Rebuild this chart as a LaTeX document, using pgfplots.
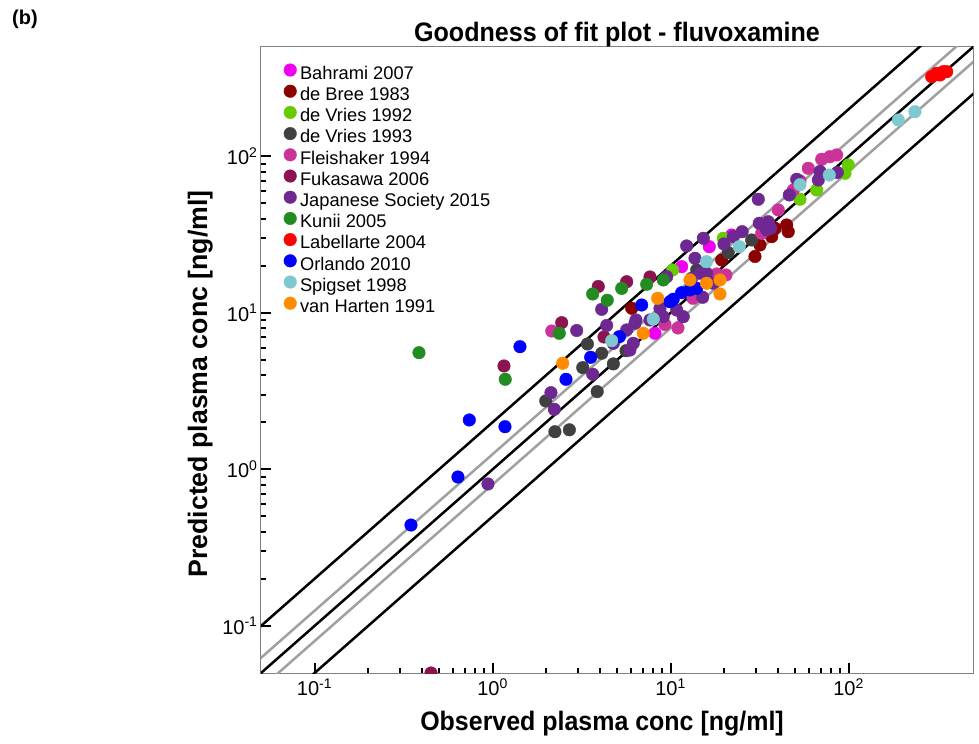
\documentclass[border=0pt]{standalone}
\usepackage{fontspec}
\setmainfont{Liberation Sans}
\usepackage{graphicx}
\usepackage{pgfplots}
\pgfplotsset{compat=1.18}

% study colours
\definecolor{cBahrami}{RGB}{240,0,240}
\definecolor{cdeBree}{RGB}{139,0,0}
\definecolor{cdeVriesA}{RGB}{102,204,0}
\definecolor{cdeVriesB}{RGB}{64,64,64}
\definecolor{cFleishaker}{RGB}{204,51,153}
\definecolor{cFukasawa}{RGB}{139,20,80}
\definecolor{cJapanese}{RGB}{110,40,145}
\definecolor{cKunii}{RGB}{34,139,34}
\definecolor{cLabellarte}{RGB}{255,0,0}
\definecolor{cOrlando}{RGB}{0,0,255}
\definecolor{cSpigset}{RGB}{126,200,207}
\definecolor{cvanHarten}{RGB}{255,140,0}
\definecolor{refgray}{RGB}{160,160,160}

\pgfplotsset{
  study/.style={only marks, mark=*, mark size=6.3bp, color=#1,
    mark options={draw=none, fill=#1}},
}

\begin{document}
\begin{tikzpicture}
\useasboundingbox (0,0) rectangle (979bp,744bp);
\node[font=\bfseries\fontsize{20bp}{22bp}\selectfont] at (25bp,725bp) {(b)};
\begin{axis}[
  at={(261bp,71bp)}, anchor=south west,
  scale only axis, width=712bp, height=626bp,
  xmode=log, ymode=log,
  xmin=0.05, xmax=500, ymin=0.05, ymax=500,
  xtick={0.1,1,10,100}, ytick={0.1,1,10,100},
  xticklabels={10\textsuperscript{-1},10\textsuperscript{0},10\textsuperscript{1},10\textsuperscript{2}},
  yticklabels={10\textsuperscript{-1},10\textsuperscript{0},10\textsuperscript{1},10\textsuperscript{2}},
  tick pos=left, tick align=inside,
  major tick length=10bp, minor tick length=5bp,
  every tick/.style={black, line width=2bp},
  axis line style={draw=gray, line width=1bp},
  tick label style={font=\fontsize{20bp}{22bp}\selectfont},
  xticklabel style={yshift=-2bp},
  title={\scalebox{0.94}[1]{Goodness of fit plot - fluvoxamine}},
  title style={font=\bfseries\fontsize{26.7bp}{28bp}\selectfont,
    at={(axis description cs:0.5,1)}, anchor=base, yshift=0bp},
  xlabel={\scalebox{0.935}[1]{Observed plasma conc [ng/ml]}},
  xlabel style={font=\bfseries\fontsize{26.7bp}{28bp}\selectfont,
    at={(axis description cs:0.479,-0.0915)}, anchor=base},
  ylabel={Predicted plasma conc [ng/ml]},
  ylabel style={font=\bfseries\fontsize{26.7bp}{28bp}\selectfont,
    at={(axis description cs:-0.0758,0.4617)}, anchor=base, rotate=0},
  clip marker paths=true,
  legend cell align=left,
  legend image code/.code={\draw[#1] plot coordinates {(0bp,6.3bp)};},
  legend style={at={(axis description cs:0.0319,0.9736)}, anchor=north west,
    draw=none, fill=none, font=\fontsize{18.3bp}{21bp}\selectfont,
    inner sep=0pt, row sep=0pt, column sep=3.5bp,
    nodes={inner sep=0pt, text height=11.6bp, text depth=5.6bp}},
]
% fold-error guide lines
\addplot[refgray, line width=2.5bp, forget plot] coordinates {(0.01,0.0125) (1000,1250)};
\addplot[refgray, line width=2.5bp, forget plot] coordinates {(0.01,0.008) (1000,800)};
\addplot[black, line width=2.5bp, forget plot] coordinates {(0.01,0.01) (1000,1000)};
\addplot[black, line width=2.5bp, forget plot] coordinates {(0.01,0.02) (1000,2000)};
\addplot[black, line width=2.5bp, forget plot] coordinates {(0.01,0.005) (1000,500)};

\addplot[study=cBahrami] coordinates {
  (8.17,7.41) (11.54,19.74) (16.50,26.49) (22.04,31.46)};
\addlegendentry{Bahrami 2007}
\addplot[study=cdeBree] coordinates {
  (6.05,10.70) (19.37,21.78) (29.80,22.93) (31.78,27.16) (36.98,30.69)
  (38.59,34.72) (44.88,36.45) (45.83,33.03)};
\addlegendentry{de Bree 1983}
\addplot[study=cdeVriesA] coordinates {
  (10.27,18.80) (19.77,29.98) (53.33,53.19) (66.20,61.00) (95.46,77.98) (99.6,88.13)};
\addlegendentry{de Vries 1992}
\addplot[study=cdeVriesB] coordinates {
  (3.41,6.33) (4.10,5.52) (3.21,4.47) (1.99,2.74) (3.87,3.14) (2.24,1.74)
  (2.70,1.79) (4.77,4.72) (5.62,5.73) (14.02,18.80) (21.10,24.25) (28.55,29.23)};
\addlegendentry{de Vries 1993}
\addplot[study=cFleishaker] coordinates {
  (2.15,7.66) (9.30,8.43) (13.36,12.40) (11.0,8.01) (18.16,17.73) (20.47,17.47)
  (32.49,32.26) (40.27,45.45) (48.91,61.00) (53.33,69.64) (59.38,83.94)
  (70.63,95.83) (78.62,99.6) (85.74,102.1)};
\addlegendentry{Fleishaker 1994}
\addplot[study=cFukasawa] coordinates {
  (0.451,0.05) (1.159,4.578) (2.445,8.66) (3.925,14.75) (4.226,7.015)
  (5.667,15.82) (7.66,16.96)};
\addlegendentry{Fukasawa 2006}
\addplot[study=cJapanese] coordinates {
  (0.942,0.807) (2.128,3.091) (2.222,2.421) (3.651,4.053) (2.968,7.72)
  (4.102,10.54) (4.375,8.31) (4.77,6.39) (5.667,7.78) (5.91,5.79) (6.17,6.39)
  (6.31,8.58) (6.39,9.01) (7.66,9.01) (8.72,10.70) (9.10,9.456) (9.51,17.03)
  (10.82,10.43) (11.78,9.456) (12.31,26.77) (13.14,16.64) (13.71,22.33)
  (14.63,17.91) (15.15,12.58) (15.27,29.98) (15.95,17.91) (17.38,15.46)
  (19.95,27.56) (22.50,30.69) (25.24,33.03) (31.10,53.19) (31.50,37.37)
  (34.67,33.86) (35.39,38.25) (36.51,34.72) (46.44,56.67) (51.11,71.41)
  (67.59,70.68) (69.09,80.07) (86.4,78.90)};
\addlegendentry{Japanese Society 2015}
\addplot[study=cKunii] coordinates {
  (0.386,5.568) (1.178,3.765) (2.370,7.407) (3.651,13.21) (4.410,12.04)
  (5.312,14.34) (7.341,15.23) (9.10,16.23)};
\addlegendentry{Kunii 2005}
\addplot[study=cLabellarte] coordinates {
  (293.1,323.1) (312.6,339.6) (326.2,331.3) (340.4,347.7) (355.7,347.7)};
\addlegendentry{Labellarte 2004}
\addplot[study=cOrlando] coordinates {
  (0.348,0.441) (0.639,0.894) (0.740,2.069) (1.174,1.874) (1.425,6.081)
  (2.585,3.765) (3.557,5.203) (5.150,7.046) (6.881,11.23) (9.92,11.79)
  (10.35,12.22) (11.54,13.46) (12.85,14.01) (14.02,14.34)};
\addlegendentry{Orlando 2010}
\addplot[study=cSpigset] coordinates {
  (4.669,6.644) (7.994,9.116) (15.91,21.25) (24.32,26.49) (53.33,65.95)
  (77.91,76.05) (190.2,170.9) (236.0,193.1)};
\addlegendentry{Spigset 1998}
\addplot[study=cvanHarten] coordinates {
  (2.477,4.764) (7.025,7.407) (8.462,12.40) (12.85,16.23) (15.91,15.46)
  (18.95,16.23) (18.95,13.21)};
\addlegendentry{van Harten 1991}
\end{axis}
\end{tikzpicture}
\end{document}
